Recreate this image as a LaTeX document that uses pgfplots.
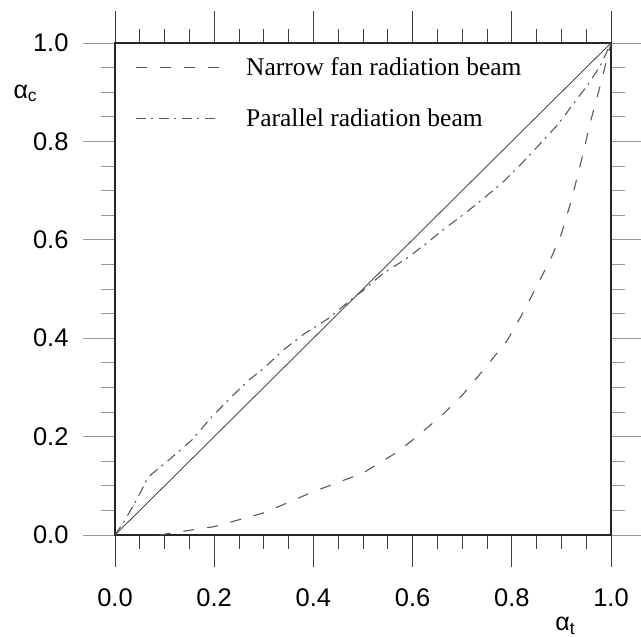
\documentclass[border=0pt]{standalone}
\usepackage{fontspec}
\setmainfont{Liberation Serif}
\setsansfont{Liberation Sans}
\usepackage{pgfplots}
\pgfplotsset{compat=1.18}
\definecolor{curve}{gray}{0.35}

\begin{document}
\begin{tikzpicture}
\begin{axis}[
    scale only axis,
    width=496bp, height=492bp,
    xmin=0, xmax=1, ymin=0, ymax=1,
    xtick={0,0.2,...,1.0}, ytick={0,0.2,...,1.0},
    minor tick num=3,
    tick align=outside,
    major tick length=32bp,
    minor tick length=14bp,
    xtick pos=both, ytick pos=both,
    every tick/.style={line width=0.8bp},
    x tick style={black!75},
    y tick style={black!40},
    axis line style={line width=1.6bp, black!85},
    xticklabel style={font=\sffamily\fontsize{25.5bp}{28bp}\selectfont, yshift=-18bp},
    yticklabel style={font=\sffamily\fontsize{25.5bp}{28bp}\selectfont, xshift=-11bp},
    xticklabel pos=bottom, yticklabel pos=left,
    /pgf/number format/assume math mode=true,
    /pgf/number format/fixed, /pgf/number format/fixed zerofill,
    /pgf/number format/precision=1,
    xlabel={α\textsubscript{t}},
    ylabel={α\textsubscript{c}},
    xlabel style={font=\sffamily\fontsize{25bp}{28bp}\selectfont,
        at={(axis description cs:0.881,-0.195)}, anchor=base west},
    ylabel style={font=\sffamily\fontsize{25bp}{28bp}\selectfont, rotate=-90,
        at={(axis description cs:-0.2117,0.888)}, anchor=base west},
    legend image code/.code={\draw[#1] (0bp,0bp) -- (83bp,0bp);},
    legend style={draw=none, fill=none, at={(axis description cs:0.034,0.979)},
        anchor=north west, font=\rmfamily\fontsize{25.5bp}{30bp}\selectfont,
        row sep=28bp, column sep=15bp, nodes={inner xsep=12bp}},
    legend cell align=left,
]
\addplot[curve, line width=1.1bp, dash pattern=on 11bp off 13bp] coordinates {
    (0.09,0) (0.12,0.005) (0.2,0.017) (0.3,0.045) (0.4,0.088) (0.5,0.126)
    (0.565,0.166) (0.6,0.193) (0.66,0.244) (0.7,0.284) (0.73,0.32)
    (0.76,0.357) (0.79,0.394) (0.82,0.447) (0.85,0.505) (0.88,0.565)
    (0.90,0.612) (0.92,0.68) (0.94,0.76) (0.96,0.845) (0.98,0.92) (1,1)
};
\addlegendentry{Narrow fan radiation beam}
\addplot[curve, line width=1.1bp, dash pattern=on 10bp off 5bp on 2bp off 6bp] coordinates {
    (0,0) (0.02,0.03) (0.047,0.078) (0.067,0.118) (0.108,0.152) (0.155,0.193)
    (0.195,0.24) (0.235,0.281) (0.27,0.315) (0.30,0.339) (0.343,0.379)
    (0.383,0.41) (0.43,0.44) (0.467,0.471) (0.5,0.497) (0.541,0.532)
    (0.588,0.562) (0.628,0.593) (0.665,0.623) (0.706,0.654) (0.743,0.684)
    (0.783,0.718) (0.817,0.752) (0.857,0.795) (0.89,0.831) (0.924,0.876)
    (0.951,0.912) (0.978,0.953) (1,1)
};
\addlegendentry{Parallel radiation beam}
\addplot[black!70, line width=0.9bp, forget plot] coordinates {(0,0) (1,1)};
\end{axis}
\pgfresetboundingbox
\path (-115bp,-102bp) rectangle (526bp,535bp);
\end{tikzpicture}
\end{document}
